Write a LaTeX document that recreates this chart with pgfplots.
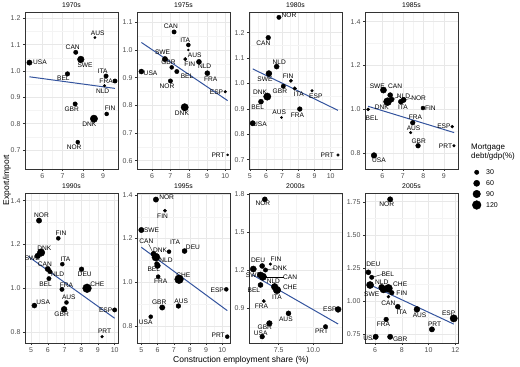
\documentclass[border=0pt]{standalone}
\usepackage{pgfplots}
\pgfplotsset{compat=1.18}
\usepackage{pgfplotstable}
\usepackage{fontspec}
\setmainfont{Liberation Sans}
\definecolor{fitblue}{RGB}{52,84,158}
\definecolor{gridmaj}{RGB}{232,232,232}
\definecolor{gridmin}{RGB}{244,244,244}
\definecolor{tickgray}{RGB}{77,77,77}
\definecolor{framegray}{RGB}{51,51,51}

\pgfplotsset{
  panel/.style={
    scale only axis, width=93pt, anchor=north west,
    axis line style={framegray, line width=0.5pt},
    grid=both, major grid style={gridmaj, line width=0.55pt}, minor grid style={gridmin, line width=0.3pt},
    minor tick num=1, minor tick length=0pt,
    tick align=outside, tick pos=left, major tick length=2pt,
    tick style={framegray, line width=0.4pt},
    ticklabel style={font=\fontsize{7}{8}\selectfont, text=tickgray},
    xticklabel style={yshift=1pt},
    yticklabel style={xshift=1pt},
    /pgf/number format/assume math mode=true,
    title style={font=\fontsize{6.8}{8}\selectfont, yshift=-2.5pt, inner sep=1pt},
    clip=false,
  },
  toprow/.style={height=157pt},
  botrow/.style={height=150pt},
  pts/.style={scatter, only marks, mark=*, scatter/use mapped color={draw=black, fill=black},
    visualization depends on={0.4*sqrt(\thisrow{m}) \as \rad},
    scatter/@pre marker code/.append style={/tikz/mark size=\rad pt}},
  labs/.style={only marks, mark=none, nodes near coords, point meta=explicit symbolic,
    every node near coord/.append style={anchor=center, font=\fontsize{6.6}{7}\selectfont, text=black, inner sep=0pt}},
  fit/.style={fitblue, line width=1pt, no marks},
  lead/.style={black, line width=0.35pt, no marks},
}

\pgfplotstableread{
lab x y m lx ly
USA 5.36 1.032 45 5.88 1.032
CAN 7.65 1.071 30 7.50 1.089
AUS 8.60 1.127 9 8.74 1.143
SWE 7.90 1.044 70 8.11 1.023
BEL 7.24 0.989 33 7.04 0.972
ITA 9.15 0.981 30 8.98 1.000
FRA 9.59 0.962 30 9.15 0.963
NLD 9.07 0.944 11 8.98 0.925
GBR 7.62 0.875 30 7.45 0.856
FIN 9.18 0.837 25 9.35 0.858
DNK 8.55 0.819 85 8.32 0.799
NOR 7.75 0.730 25 7.57 0.709
}\tA
\pgfplotstableread{
lab x y m lx ly
CAN 7.20 1.065 30 7.02 1.084
ITA 7.98 1.018 25 7.81 1.036
AUS 7.98 1.000 6 8.33 0.982
FIN 7.81 0.967 18 8.06 0.948
SWE 6.70 0.967 45 6.57 0.990
GBR 7.07 0.937 25 6.89 0.955
BEL 7.35 0.922 30 7.91 0.904
NLD 8.56 0.957 40 8.87 0.940
FRA 9.02 0.916 40 9.20 0.896
USA 5.41 0.922 40 5.91 0.916
NOR 7.00 0.888 30 6.81 0.870
ESP 10.00 0.849 11 9.52 0.847
DNK 7.78 0.793 85 7.63 0.773
PRT 10.13 0.621 7 9.61 0.620
}\tB
\pgfplotstableread{
lab x y m lx ly
NOR 6.80 1.260 30 7.42 1.269
CAN 6.14 1.180 35 5.84 1.160
NLD 6.66 1.066 40 6.82 1.083
SWE 6.18 1.039 55 5.94 1.018
FIN 7.54 1.010 18 7.37 1.029
GBR 7.07 0.989 30 6.86 0.971
ITA 7.78 0.980 22 8.03 0.958
ESP 8.85 0.971 11 9.08 0.950
DNK 6.08 0.948 85 5.63 0.967
BEL 5.69 0.928 40 5.49 0.908
FRA 8.09 0.899 35 7.95 0.875
AUS 6.96 0.866 8 6.82 0.885
USA 5.18 0.843 45 5.63 0.840
PRT 10.45 0.718 11 9.79 0.718
}\tC
\pgfplotstableread{
lab x y m lx ly
SWE 6.05 1.088 60 5.75 1.106
CAN 6.38 1.065 40 6.62 1.106
NLD 6.45 1.045 40 7.03 1.058
DNK 6.25 1.035 100 5.97 1.009
ITA 6.90 1.035 40 7.00 1.008
NOR 7.03 1.043 45 7.77 1.050
FIN 7.98 1.006 25 8.34 1.005
FRA 7.48 0.939 35 7.61 0.962
AUS 7.38 0.894 11 7.52 0.913
ESP 9.41 0.921 14 9.00 0.921
GBR 7.74 0.834 35 7.77 0.856
PRT 9.49 0.834 11 9.08 0.833
BEL 5.30 1.000 15 5.49 0.960
USA 5.59 0.790 50 5.83 0.770
}\tD
\pgfplotstableread{
lab x y m lx ly
NOR 5.48 1.309 45 5.63 1.332
FIN 6.63 1.228 25 6.79 1.251
DNK 5.60 1.163 90 5.79 1.183
SWE 5.40 1.148 50 5.08 1.137
CAN 6.00 1.088 45 5.83 1.111
ITA 6.87 1.110 25 7.06 1.132
NLD 6.13 1.076 30 6.59 1.065
BEL 6.07 1.044 30 5.87 1.020
DEU 8.02 1.087 35 8.21 1.064
CHE 8.35 1.000 120 8.97 1.020
FRA 6.85 0.995 30 7.12 1.015
AUS 7.12 0.935 25 7.26 0.957
GBR 6.98 0.904 55 6.83 0.881
USA 5.20 0.921 40 5.73 0.936
ESP 10.00 0.901 30 9.46 0.898
PRT 9.25 0.779 13 9.40 0.802
}\tE
\pgfplotstableread{
lab x y m lx ly
NOR 5.90 1.378 45 6.56 1.388
FIN 6.46 1.327 18 6.31 1.302
SWE 5.00 1.239 45 5.63 1.236
CAN 5.75 1.130 40 5.31 1.188
DNK 5.90 1.115 100 6.15 1.147
ITA 6.71 1.140 25 7.08 1.185
DEU 7.67 1.143 40 8.19 1.160
NLD 6.00 1.076 50 6.52 1.102
BEL 5.95 1.085 30 5.77 1.059
FRA 6.04 1.026 25 6.19 1.003
CHE 7.33 1.014 120 7.60 1.033
ESP 10.25 0.968 25 9.69 0.965
GBR 6.29 0.885 45 6.10 0.907
AUS 7.29 0.892 35 7.46 0.912
USA 5.58 0.843 25 5.27 0.816
PRT 10.31 0.752 25 9.75 0.757
}\tF
\pgfplotstableread{
lab x y m lx ly
NOR 6.50 1.758 40 6.36 1.726
DEU 6.31 1.232 40 6.02 1.279
FIN 6.90 1.247 11 7.31 1.284
DNK 6.55 1.200 30 7.60 1.212
CAN 6.36 1.147 85 8.33 1.147
NLD 6.19 1.161 60 7.12 1.110
SWE 5.67 1.208 60 5.68 1.160
BEL 6.19 1.082 40 5.71 1.037
CHE 7.38 1.042 90 8.33 1.062
ITA 7.21 1.068 70 7.38 0.982
FRA 6.43 0.955 18 6.26 0.911
AUS 8.21 0.858 40 8.02 0.813
ESP 11.79 0.889 55 11.19 0.889
PRT 10.88 0.753 30 10.60 0.713
GBR 6.83 0.779 50 6.50 0.747
USA 6.31 0.674 35 6.20 0.705
}\tG
\pgfplotstableread{
lab x y m lx ly
NOR 7.13 1.768 45 6.88 1.733
DEU 5.50 1.217 40 5.88 1.277
BEL 5.75 1.179 30 6.95 1.204
SWE 5.63 1.121 80 5.75 1.053
NLD 6.50 1.103 60 6.50 1.139
CHE 7.00 1.096 100 7.88 1.128
FIN 7.25 1.063 35 8.00 1.058
CAN 7.00 1.033 15 7.00 0.987
ITA 7.70 0.957 40 8.00 0.912
AUS 9.13 0.937 55 9.33 0.894
ESP 11.88 0.869 85 11.50 0.907
PRT 10.25 0.786 45 10.45 0.826
FRA 6.83 0.861 35 6.63 0.826
GBR 7.13 0.730 45 7.88 0.713
USA 6.05 0.730 45 5.63 0.718
}\tH
\pgfplotstableread{
lab x y m lx ly
DNK 6.63 1.088 80 6.63 1.088
}\tHx
\pgfplotstableread{
x y m lx lab
476.7 -172.3 30 486 30
476.7 -183.3 60 486 60
476.7 -194.0 90 486 90
476.7 -205.0 120 486 120
}\tLeg

\begin{document}
\begin{tikzpicture}
\useasboundingbox (0,0) rectangle (520pt,-367pt);
% ---- 1970s
\begin{axis}[panel, toprow, at={(25pt,-12pt)}, title={1970s},
  xmin=5.14, xmax=9.74, ymin=0.628, ymax=1.224,
  xtick={6,7,8,9}, xticklabels={6,7,8,9},
  ytick={0.7,0.8,0.9,1.0,1.1,1.2}, yticklabels={0.7,0.8,0.9,1.0,1.1,1.2}]
\addplot[fit] coordinates {(5.36,0.978) (9.59,0.934)};
\addplot[pts] table[x=x,y=y]{\tA};
\addplot[labs] table[x=lx,y=ly,meta=lab]{\tA};
\end{axis}
% ---- 1975s
\begin{axis}[panel, toprow, at={(137pt,-12pt)}, title={1975s},
  xmin=5.17, xmax=10.26, ymin=0.570, ymax=1.137,
  xtick={6,7,8,9,10}, xticklabels={6,7,8,9,10},
  ytick={0.6,0.7,0.8,0.9,1.0,1.1}, yticklabels={0.6,0.7,0.8,0.9,1.0,1.1}]
\addplot[fit] coordinates {(5.41,1.027) (10.13,0.817)};
\addplot[pts] table[x=x,y=y]{\tB};
\addplot[labs] table[x=lx,y=ly,meta=lab]{\tB};
\end{axis}
% ---- 1980s
\begin{axis}[panel, toprow, at={(249pt,-12pt)}, title={1980s},
  xmin=4.95, xmax=10.7, ymin=0.663, ymax=1.281,
  xtick={5,6,7,8,9,10}, xticklabels={5,6,7,8,9,10},
  ytick={0.7,0.8,0.9,1.0,1.1,1.2}, yticklabels={0.7,0.8,0.9,1.0,1.1,1.2}]
\addplot[fit] coordinates {(5.18,1.057) (10.45,0.894)};
\addplot[pts] table[x=x,y=y]{\tC};
\addplot[labs] table[x=lx,y=ly,meta=lab]{\tC};
\end{axis}
% ---- 1985s
\begin{axis}[panel, toprow, at={(365pt,-12pt)}, title={1985s},
  xmin=5.15, xmax=9.69, ymin=0.728, ymax=1.444,
  xtick={6,7,8,9}, xticklabels={6,7,8,9},
  ytick={0.8,1.0,1.2,1.4}, yticklabels={0.8,1.0,1.2,1.4}]
\addplot[fit] coordinates {(5.30,1.014) (9.50,0.894)};
\addplot[lead] coordinates {(6.50,1.048) (6.80,1.058)};
\addplot[lead] coordinates {(7.10,1.045) (7.45,1.050)};
\addplot[pts] table[x=x,y=y]{\tD};
\addplot[labs] table[x=lx,y=ly,meta=lab]{\tD};
\end{axis}
% ---- 1990s
\begin{axis}[panel, botrow, at={(25pt,-193pt)}, title={1990s},
  xmin=4.64, xmax=10.2, ymin=0.75, ymax=1.435,
  xtick={5,6,7,8,9,10}, xticklabels={5,6,7,8,9,10},
  ytick={0.8,1.0,1.2,1.4}, yticklabels={0.8,1.0,1.2,1.4}]
\addplot[fit] coordinates {(4.84,1.145) (10.0,0.863)};
\addplot[pts] table[x=x,y=y]{\tE};
\addplot[labs] table[x=lx,y=ly,meta=lab]{\tE};
\end{axis}
% ---- 1995s
\begin{axis}[panel, botrow, at={(137pt,-193pt)}, title={1995s},
  xmin=4.73, xmax=10.48, ymin=0.723, ymax=1.408,
  xtick={5,6,7,8,9,10}, xticklabels={5,6,7,8,9,10},
  ytick={0.8,1.0,1.2,1.4}, yticklabels={0.8,1.0,1.2,1.4}]
\addplot[fit] coordinates {(5.0,1.16) (10.31,0.871)};
\addplot[lead] coordinates {(5.45,1.175) (5.75,1.130)};
\addplot[pts] table[x=x,y=y]{\tF};
\addplot[labs] table[x=lx,y=ly,meta=lab]{\tF};
\end{axis}
% ---- 2000s
\begin{axis}[panel, botrow, at={(249pt,-193pt)}, title={2000s},
  xmin=5.36, xmax=12.07, ymin=0.624, ymax=1.808,
  xtick={7.5,10}, xticklabels={7.5,10.0}, minor xtick={6.25,8.75,11.25},
  ytick={0.9,1.2,1.5,1.8}, yticklabels={0.9,1.2,1.5,1.8}, minor ytick={0.75,1.05,1.35,1.65}]
\addplot[fit] coordinates {(5.6,1.163) (11.79,0.774)};
\addplot[lead] coordinates {(6.36,1.147) (7.90,1.147)};
\addplot[lead] coordinates {(6.60,1.200) (7.20,1.212)};
\addplot[pts] table[x=x,y=y]{\tG};
\addplot[labs] table[x=lx,y=ly,meta=lab]{\tG};
\end{axis}
% ---- 2005s
\begin{axis}[panel, botrow, at={(365pt,-193pt)}, title={2005s},
  xmin=5.25, xmax=12.2, ymin=0.683, ymax=1.816,
  xtick={6,8,10,12}, xticklabels={6,8,10,12},
  ytick={0.75,1.0,1.25,1.5,1.75}, yticklabels={0.75,1.00,1.25,1.50,1.75}]
\addplot[fit] coordinates {(5.38,1.134) (11.88,0.826)};
\addplot[lead] coordinates {(5.75,1.179) (6.50,1.200)};
\addplot[pts] table[x=x,y=y]{\tH};
\addplot[pts] table[x=x,y=y]{\tHx};
\addplot[labs] table[x=lx,y=ly,meta=lab]{\tH};
\end{axis}
% ---- legend
\begin{axis}[hide axis, scale only axis, width=50pt, height=47pt, anchor=north west, at={(470pt,-165pt)}, clip=false,
  xmin=470, xmax=520, ymin=-212, ymax=-165]
\addplot[pts] table[x=x,y=y]{\tLeg};
\addplot[only marks, mark=none, nodes near coords, point meta=explicit symbolic,
  every node near coord/.append style={anchor=west, font=\fontsize{7}{8}\selectfont, text=black, inner sep=0pt}]
  table[x=lx,y=y,meta=lab]{\tLeg};
\end{axis}
\node[anchor=north west, align=left, font=\fontsize{8}{8.6}\selectfont, inner sep=0pt] at (471pt,-144pt) {Mortgage\\debt/gdp(\%)};
\node[rotate=90, font=\fontsize{8.5}{9}\selectfont] at (7pt,-180pt) {Export/import};
\node[font=\fontsize{8.5}{9}\selectfont] at (241pt,-360.5pt) {Construction employment share (\%)};
\end{tikzpicture}
\end{document}
